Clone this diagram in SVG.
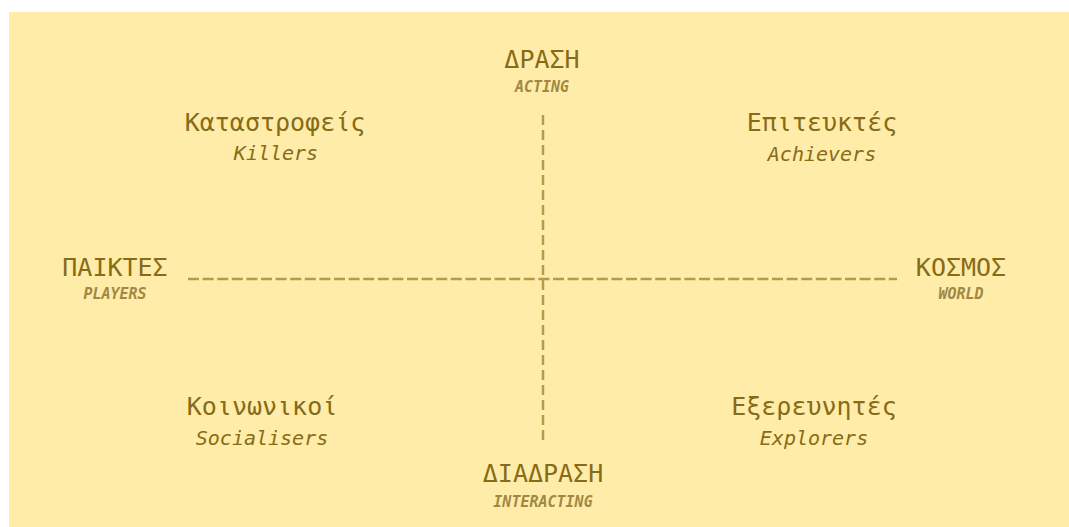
<svg xmlns="http://www.w3.org/2000/svg" width="1069" height="527" viewBox="0 0 1069 527">
  <style>
    .title { font-family: "DejaVu Sans Mono", "Liberation Mono", monospace; font-size: 25px; fill: #876b16; text-anchor: middle; }
    .name { font-family: "DejaVu Sans Mono", "Liberation Mono", monospace; font-size: 20px; font-style: italic; fill: #876b16; text-anchor: middle; }
    .axis { font-family: "DejaVu Sans Mono", "Liberation Mono", monospace; font-size: 15px; font-style: italic; font-weight: bold; fill: #a08843; text-anchor: middle; }
    .dash { stroke: #b59b4c; stroke-width: 2.5; fill: none; }
  </style>
  <!-- page background -->
  <rect x="0" y="0" width="1069" height="527" fill="#ffffff"/>
  <rect x="9" y="12" width="1060" height="515" fill="#ffeca8"/>

  <!-- axes -->
  <g id="connectors">
    <line class="dash" x1="188" y1="279" x2="897" y2="279" stroke-dasharray="11 3.6"/>
    <line class="dash" x1="543" y1="115" x2="543" y2="443" stroke-dasharray="10 5"/>
  </g>

  <g id="acting">
    <text class="title" x="542" y="68">ΔΡΑΣΗ</text>
    <text class="axis" x="542" y="92">ACTING</text>
  </g>
  <g id="interacting">
    <text class="title" x="543" y="482">ΔΙΑΔΡΑΣΗ</text>
    <text class="axis" x="543" y="507">INTERACTING</text>
  </g>
  <g id="players">
    <text class="title" x="115" y="276">ΠΑΙΚΤΕΣ</text>
    <text class="axis" x="115" y="299">PLAYERS</text>
  </g>
  <g id="world">
    <text class="title" x="961" y="276">ΚΟΣΜΟΣ</text>
    <text class="axis" x="961" y="299">WORLD</text>
  </g>

  <g id="killers">
    <text class="title" x="275" y="131">Καταστροφείς</text>
    <text class="name" x="276" y="160">Killers</text>
  </g>
  <g id="achievers">
    <text class="title" x="822" y="131">Επιτευκτές</text>
    <text class="name" x="822" y="161">Achievers</text>
  </g>
  <g id="socialisers">
    <text class="title" x="262" y="415">Κοινωνικοί</text>
    <text class="name" x="262" y="445">Socialisers</text>
  </g>
  <g id="explorers">
    <text class="title" x="814" y="415">Εξερευνητές</text>
    <text class="name" x="814" y="445">Explorers</text>
  </g>
</svg>
